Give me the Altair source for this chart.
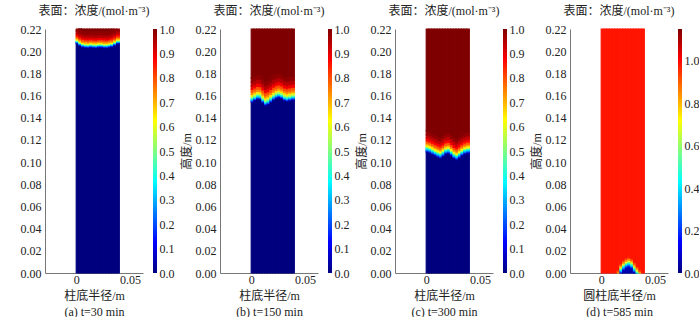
import altair as alt
import pandas as pd

# ---------------- data ----------------
R_STEP = 0.0025          # width of one radial column (m)
R_MAX = 0.04             # column radius (m)
Z_TOP = 0.22             # column height (m)

TITLE = "表面：浓度/(mol·m⁻³)"
X_TITLES = ["柱底半径/m", "柱底半径/m", "柱底半径/m", "圆柱底半径/m"]
Y_TITLES = ["", "高度/m", "高度/m", "高度/m"]
CAPTIONS = ["(a) t=30 min", "(b) t=150 min", "(c) t=300 min", "(d) t=585 min"]

Y_TICKS = [0.00, 0.02, 0.04, 0.06, 0.08, 0.10, 0.12, 0.14, 0.16, 0.18, 0.20, 0.22]
X_TICKS = [0.0, 0.05]
CBAR_MAX = [1.0, 1.0, 1.0, 1.15]
CBAR_TICKS = [
    [0.0, 0.1, 0.2, 0.3, 0.4, 0.5, 0.6, 0.7, 0.8, 0.9, 1.0],
    [0.0, 0.1, 0.2, 0.3, 0.4, 0.5, 0.6, 0.7, 0.8, 0.9, 1.0],
    [0.0, 0.1, 0.2, 0.3, 0.4, 0.5, 0.6, 0.7, 0.8, 0.9, 1.0],
    [0.0, 0.2, 0.4, 0.6, 0.8, 1.0],
]

# height (m) where the concentration starts to rise, per radial column
FRONT_A = [0.2068, 0.2050, 0.2038, 0.2033, 0.2031, 0.2035, 0.2032, 0.2030,
           0.2034, 0.2035, 0.2031, 0.2030, 0.2035, 0.2040, 0.2052, 0.2068]
FRONT_B = [0.1540, 0.1555, 0.1568, 0.1565, 0.1535, 0.1510, 0.1520, 0.1540,
           0.1560, 0.1575, 0.1582, 0.1573, 0.1555, 0.1547, 0.1553, 0.1560]
FRONT_C = [0.1091, 0.1083, 0.1071, 0.1058, 0.1045, 0.1036, 0.1053, 0.1073,
           0.1078, 0.1058, 0.1033, 0.1021, 0.1038, 0.1058, 0.1073, 0.1081]
FRONT_D = [-0.02, -0.02, -0.02, -0.02, -0.02, -0.02, -0.0062, -0.0005,
           0.0025, 0.0045, 0.0054, 0.0040, 0.0005, -0.0030, -0.0060, -0.02]

# vertical concentration profile above the front: offset (m) -> concentration
OFFSET_A = [0, 0.0006, 0.0012, 0.0018, 0.0024, 0.0032, 0.0042, 0.0055, 0.0070, 0.0090, 0.0115, 0.0150]
CONC_A = [0, 0.10, 0.20, 0.32, 0.45, 0.58, 0.68, 0.78, 0.86, 0.92, 0.97, 1.0]
OFFSET_B = [0, 0.0010, 0.0020, 0.0030, 0.0040, 0.0055, 0.0070, 0.0090, 0.0115, 0.0145, 0.0180, 0.0220]
CONC_B = [0, 0.12, 0.25, 0.38, 0.50, 0.60, 0.70, 0.78, 0.86, 0.92, 0.97, 1.0]
OFFSET_C = [0, 0.0010, 0.0020, 0.0030, 0.0040, 0.0050, 0.0065, 0.0080, 0.0100, 0.0125, 0.0155, 0.0190]
CONC_C = [0, 0.12, 0.24, 0.36, 0.48, 0.58, 0.68, 0.77, 0.85, 0.91, 0.96, 1.0]
OFFSET_D = [0, 0.0010, 0.0020, 0.0030, 0.0040, 0.0050, 0.0060, 0.0075, 0.0090]
CONC_D = [0.05, 0.14, 0.26, 0.40, 0.52, 0.64, 0.75, 0.90, 1.0]

FRONTS = [FRONT_A, FRONT_B, FRONT_C, FRONT_D]
OFFSETS = [OFFSET_A, OFFSET_B, OFFSET_C, OFFSET_D]
CONCS = [CONC_A, CONC_B, CONC_C, CONC_D]

JET = ["#00007f", "#0000ff", "#007fff", "#00ffff", "#7fff7f",
       "#ffff00", "#ff7f00", "#ff0000", "#7f0000"]

SERIF = "Liberation Serif, Noto Sans CJK SC"
TXT = "#222222"
AXC = "#777777"
PLOT_W = 98
PLOT_H = 244


def build_rects(front, offsets, concs):
    """One rect per radial column and concentration band."""
    rows = []
    for i, base in enumerate(front):
        x0 = i * R_STEP
        x1 = x0 + R_STEP
        edges = [0.0] + [base + o for o in offsets] + [Z_TOP]
        vals = [concs[0]] + [(concs[k] + concs[k + 1]) / 2 for k in range(len(concs) - 1)] + [concs[-1]]
        for k in range(len(vals)):
            lo = min(max(edges[k], 0.0), Z_TOP)
            hi = min(max(edges[k + 1], 0.0), Z_TOP)
            if hi > lo:
                rows.append(dict(x0=x0, x1=x1, y0=lo, y1=hi, c=vals[k]))
    return pd.DataFrame(rows)


def panel(i):
    df = build_rects(FRONTS[i], OFFSETS[i], CONCS[i])
    cmax = CBAR_MAX[i]
    stops = [cmax * k / 8 for k in range(9)]
    jet_scale = alt.Scale(domain=stops, range=JET, clamp=True)
    y_axis_kw = dict(values=Y_TICKS, format=".2f", ticks=False, grid=False,
                     domainColor=AXC, labelFont=SERIF, labelFontSize=12,
                     labelColor=TXT, labelPadding=4, orient="left",
                     titleFont=SERIF, titleFontSize=12, titleFontWeight="normal",
                     titleColor=TXT, titlePadding=2)
    y_axis_kw["title"] = Y_TITLES[i]
    fld = alt.Chart(df).mark_rect(strokeWidth=1.2).encode(
        x=alt.X("x0:Q", scale=alt.Scale(domain=[-0.029, 0.062], nice=False, zero=False),
                axis=alt.Axis(values=X_TICKS, grid=False, ticks=False,
                              labelExpr="datum.value == 0 ? '0' : format(datum.value, '.2f')",
                              domainColor=AXC, labelFont=SERIF, labelFontSize=12,
                              labelColor=TXT, labelPadding=1,
                              title=[X_TITLES[i], CAPTIONS[i]], titleFont=SERIF,
                              titleFontSize=12, titleFontWeight="normal",
                              titleColor=TXT, titleLineHeight=16, titlePadding=5)),
        x2="x1:Q",
        y=alt.Y("y0:Q", scale=alt.Scale(domain=[0, Z_TOP], nice=False),
                axis=alt.Axis(**y_axis_kw)),
        y2="y1:Q",
        color=alt.Color("c:Q", scale=jet_scale, legend=None),
        stroke=alt.Stroke("c:Q", scale=jet_scale, legend=None),
    )

    # colour bar: one rect with the jet gradient, on its own 0..cmax scale
    cb_df = pd.DataFrame({"lo": [0.0], "hi": [cmax]})
    grad = alt.Gradient(
        gradient="linear",
        stops=[alt.GradientStop(offset=k / 8, color=JET[8 - k]) for k in range(9)],
        x1=0, x2=0, y1=0, y2=1,
    )
    cbar = alt.Chart(cb_df).mark_rect(color=grad).encode(
        x=alt.value(PLOT_W + 10),
        x2=alt.value(PLOT_W + 14),
        y=alt.Y("lo:Q", scale=alt.Scale(domain=[0, cmax], nice=False),
                axis=alt.Axis(orient="right", values=CBAR_TICKS[i], format=".1f",
                              domain=False, ticks=False, grid=False, offset=14,
                              labelPadding=2, labelFont=SERIF, labelFontSize=12,
                              labelColor=TXT, title="")),
        y2="hi:Q",
    )

    return alt.layer(fld, cbar).resolve_scale(y="independent").properties(
        width=PLOT_W, height=PLOT_H,
        title=alt.TitleParams(TITLE, font=SERIF, fontSize=12, fontWeight="normal",
                              color=TXT, anchor="middle", offset=5),
    )


chart = alt.hconcat(*[panel(i) for i in range(4)], spacing=175 - PLOT_W, bounds="flush").resolve_scale(
    color="independent", stroke="independent"
).configure_view(stroke=None).properties(
    padding={"left": 20, "top": 5, "right": 0, "bottom": 0}
)

chart.save("out.html", embed_options={"renderer": "svg", "actions": False})
